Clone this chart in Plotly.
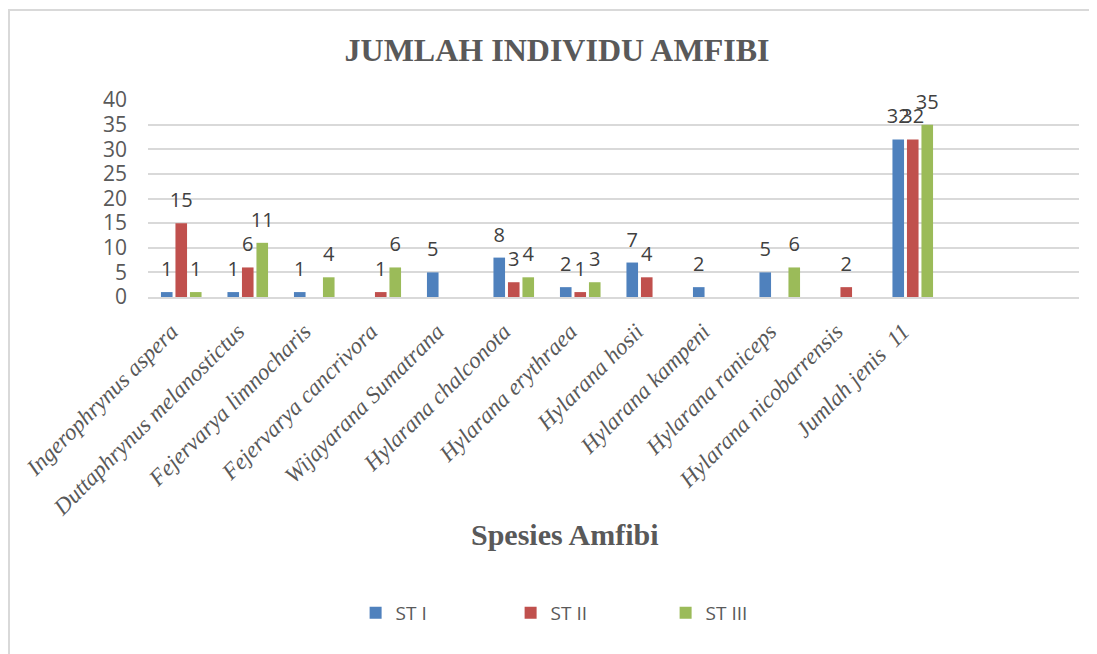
import plotly.graph_objects as go

categories = [
    "Ingerophrynus aspera",
    "Duttaphrynus melanostictus",
    "Fejervarya limnocharis",
    "Fejervarya cancrivora",
    "Wijayarana Sumatrana",
    "Hylarana chalconota",
    "Hylarana erythraea",
    "Hylarana hosii",
    "Hylarana kampeni",
    "Hylarana raniceps",
    "Hylarana nicobarrensis",
    "Jumlah jenis  11",
    " ",
    "  ",
]
st1 = [1, 1, 1, None, 5, 8, 2, 7, 2, 5, None, 32, None, None]
st2 = [15, 6, None, 1, None, 3, 1, 4, None, None, 2, 32, None, None]
st3 = [1, 11, 4, 6, None, 4, 3, None, None, 6, None, 35, None, None]
series_names = ["ST I", "ST II", "ST III"]
colors = ["#4f81bd", "#c0504d", "#9bbb59"]
y_ticks = [0, 5, 10, 15, 20, 25, 30, 35, 40]

fig = go.Figure()
for name, vals, col in zip(series_names, [st1, st2, st3], colors):
    fig.add_trace(go.Bar(
        name=name, x=categories, y=vals,
        marker=dict(color=col, line=dict(width=0)),
        offsetgroup=name,
    ))
for name, vals in zip(series_names, [st1, st2, st3]):
    fig.add_trace(go.Scatter(
        x=categories, y=vals, mode="markers+text",
        marker=dict(size=16, opacity=0),
        text=[("" if v is None else f"{v}") for v in vals],
        textposition="top center",
        textfont=dict(family="Open Sans", size=20, color="#404040"),
        offsetgroup=name, showlegend=False, hoverinfo="skip", cliponaxis=False,
    ))

fig.update_layout(
    width=1089, height=646,
    margin=dict(l=140, r=18, t=92, b=357),
    paper_bgcolor="white", plot_bgcolor="white",
    barmode="group", bargap=0.346, bargroupgap=0.2,
    scattermode="group", scattergap=0.346,
    title=dict(text="<b>JUMLAH INDIVIDU AMFIBI</b>", x=(557 - 8) / 1089, xanchor="center",
               y=1 - 42 / 646, yanchor="middle", yref="container",
               font=dict(family="Liberation Serif", size=32, color="#595959")),
    showlegend=True,
    legend=dict(orientation="h", x=0.223, xanchor="left", y=-1.604, yanchor="middle",
                font=dict(family="Open Sans", size=19, color="#595959"),
                entrywidth=110, entrywidthmode="pixels", traceorder="normal"),
    xaxis=dict(type="category", tickangle=-45, showgrid=False,
               showline=True, linecolor="#d9d9d9", linewidth=2,
               ticks="", ticklabelshift=-10, ticklabelstandoff=10,
               tickfont=dict(family="Liberation Serif", size=23, color="#595959", style="italic")),
    yaxis=dict(range=[0, 40], tickvals=y_ticks, showgrid=True, gridcolor="#d9d9d9", gridwidth=2,
               zeroline=False, showline=False, ticks="", ticklabelstandoff=20,
               tickfont=dict(family="Open Sans", size=21, color="#595959")),
    annotations=[dict(text="<b>Spesies Amfibi</b>", xref="paper", yref="paper",
                      x=0.448, y=-1.208, xanchor="center", yanchor="middle", showarrow=False,
                      font=dict(family="Liberation Serif", size=30, color="#595959"))],
    shapes=[dict(type="rect", xref="paper", yref="paper", x0=-139 / 931, x1=1.03, y0=-1.9, y1=1.457,
                 line=dict(color="#d9d9d9", width=2), fillcolor="rgba(0,0,0,0)", layer="below")],
)

fig.write_html("out.html")
